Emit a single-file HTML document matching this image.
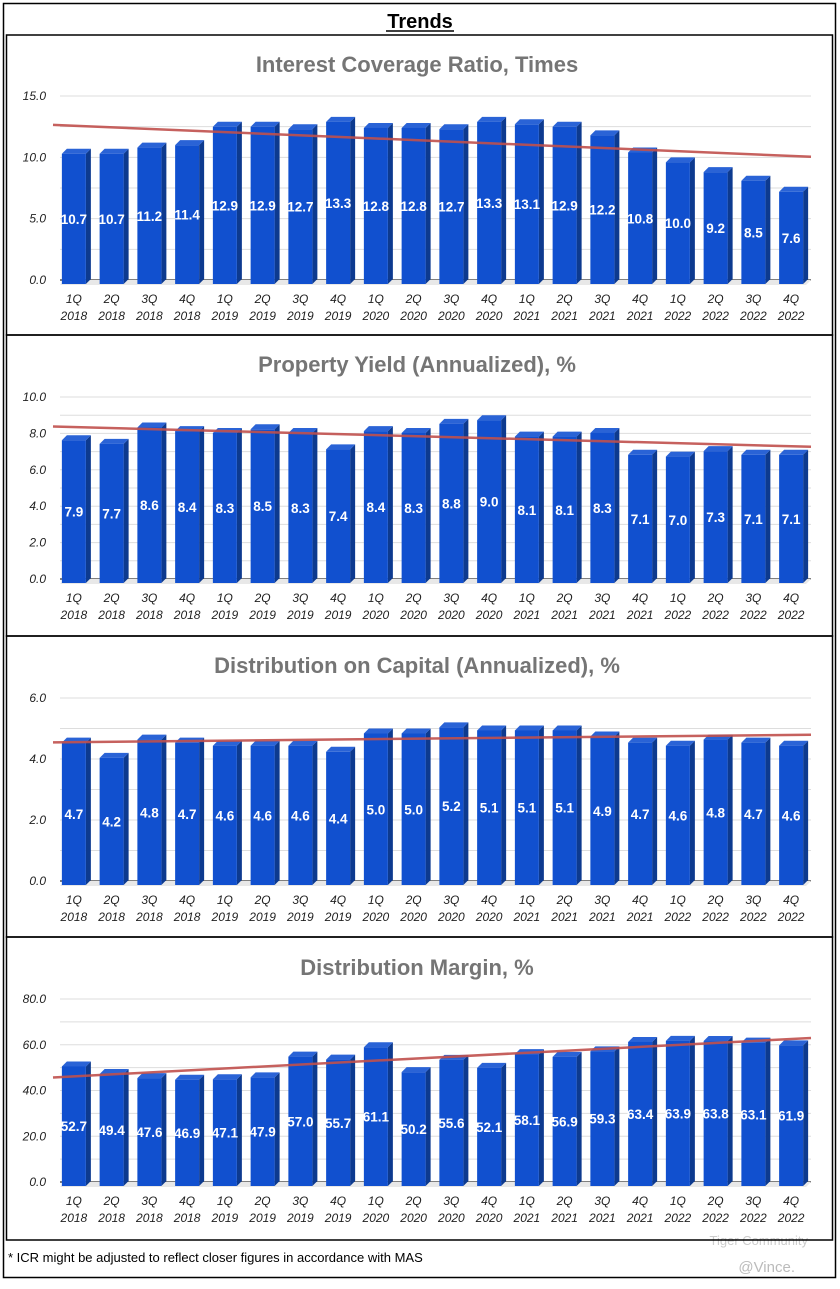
<!DOCTYPE html>
<html><head><meta charset="utf-8"><style>
body{margin:0;background:#fff;width:840px;height:1284px;overflow:hidden;font-family:"Liberation Sans",sans-serif}
</style></head><body>
<svg id="s" width="840" height="1284" xmlns="http://www.w3.org/2000/svg">
<rect x="3.5" y="3.5" width="832" height="1274" fill="none" stroke="#000" stroke-width="1.5"/>
<text x="420" y="28" text-anchor="middle" font-size="20" font-weight="bold">Trends</text>
<line x1="386" y1="31" x2="454" y2="31" stroke="#000" stroke-width="1.5"/>
<text x="8" y="1262" font-size="13">* ICR might be adjusted to reflect closer figures in accordance with MAS</text>
<text x="795" y="1272" text-anchor="end" font-size="15" fill="#bbb">@Vince.</text>
<text x="808" y="1245" text-anchor="end" font-size="13" fill="#ccc">Tiger Community</text>
</svg>
<script>
const quarters=["1Q","2Q","3Q","4Q","1Q","2Q","3Q","4Q","1Q","2Q","3Q","4Q","1Q","2Q","3Q","4Q","1Q","2Q","3Q","4Q"];
const years=["2018","2018","2018","2018","2019","2019","2019","2019","2020","2020","2020","2020","2021","2021","2021","2021","2022","2022","2022","2022"];
const icrValues=[10.7,10.7,11.2,11.4,12.9,12.9,12.7,13.3,12.8,12.8,12.7,13.3,13.1,12.9,12.2,10.8,10.0,9.2,8.5,7.6];
const yieldValues=[7.9,7.7,8.6,8.4,8.3,8.5,8.3,7.4,8.4,8.3,8.8,9.0,8.1,8.1,8.3,7.1,7.0,7.3,7.1,7.1];
const docValues=[4.7,4.2,4.8,4.7,4.6,4.6,4.6,4.4,5.0,5.0,5.2,5.1,5.1,5.1,4.9,4.7,4.6,4.8,4.7,4.6];
const marginValues=[52.7,49.4,47.6,46.9,47.1,47.9,57.0,55.7,61.1,50.2,55.6,52.1,58.1,56.9,59.3,63.4,63.9,63.8,63.1,61.9];
const icrTicks=["0.0","5.0","10.0","15.0"];
const yieldTicks=["0.0","2.0","4.0","6.0","8.0","10.0"];
const docTicks=["0.0","2.0","4.0","6.0"];
const marginTicks=["0.0","20.0","40.0","60.0","80.0"];
const titles=["Interest Coverage Ratio, Times","Property Yield (Annualized), %","Distribution on Capital (Annualized), %","Distribution Margin, %"];

const NS="http://www.w3.org/2000/svg";
const svg=document.getElementById('s');
function mk(tag,attrs,parent){const e=document.createElementNS(NS,tag);for(const k in attrs)e.setAttribute(k,attrs[k]);(parent||svg).appendChild(e);return e;}

function drawChart(idx,top,bottom,titleY,y0,yMaxPix,values,ticks,slug){
  const g=mk('g',{});
  
  
  const box=mk('rect',{x:6.5,y:top,width:826,height:bottom-top,fill:'none',stroke:'#000','stroke-width':1.5},g);
  
  
  const t=mk('text',{x:417,y:titleY,'text-anchor':'middle','font-size':22,'font-weight':'bold',fill:'#757575'},g);
  t.textContent=titles[idx];
  
  
  const tmax=parseFloat(ticks[ticks.length-1]);
  const yScale=v=>y0-(y0-yMaxPix)*v/tmax;
  const left=56,right=811,step=(right-left)/values.length;
  const xC=i=>left+step*(i+0.5)-1;
  const nT=ticks.length-1;
  for(let k=0;k<=nT*2;k++){
    const v=tmax*k/(nT*2);const y=yScale(v);
    const l=mk('line',{x1:60,x2:811,y1:y,y2:y,stroke:k===0?'#333':'#ddd','stroke-width':k===0?1.2:1},g);
    
    
  }
  ticks.forEach(tk=>{
    const tx=mk('text',{x:46,y:yScale(parseFloat(tk))+4,'text-anchor':'end','font-size':12,'font-style':'italic',fill:'#222'},g);
    tx.textContent=tk;
    
    
  });
  const fl=mk('polygon',{points:`${60},${y0+5} ${806},${y0+5} ${811},${y0} ${65},${y0}`,fill:'#e8e8e8'},g);
  
  
  values.forEach((v,i)=>{
    const cx=xC(i),w=24,d=5;
    const x=cx-w/2,yt=yScale(v)+5,yb=y0+4;
    const bg=mk('g',{},g);
    
    
    mk('polygon',{points:`${x+w},${yt} ${x+w+d},${yt-5} ${x+w+d},${yb-5} ${x+w},${yb}`,fill:'#0d3a8f'},bg);
    mk('polygon',{points:`${x},${yt} ${x+d},${yt-5} ${x+w+d},${yt-5} ${x+w},${yt}`,fill:'#2a63d6'},bg);
    mk('rect',{x:x,y:yt,width:w,height:yb-yt,fill:'#1150cf'},bg);
    const lb=mk('text',{x:cx,y:(yt+yb)/2+5,'text-anchor':'middle','font-size':13.5,'font-weight':'bold',fill:'#fff'},g);
    lb.textContent=v.toFixed(1);
    
    
    const q=mk('text',{x:cx,y:y0+23,'text-anchor':'middle','font-size':12,'font-style':'italic',fill:'#222'},g);
    q.textContent=quarters[i];
    
    
    const yr=mk('text',{x:cx,y:y0+40,'text-anchor':'middle','font-size':12,'font-style':'italic',fill:'#222'},g);
    yr.textContent=years[i];
    
    
  });
  const n=values.length;let sx=0,sy=0,sxy=0,sxx=0;
  values.forEach((v,i)=>{sx+=i;sy+=v;sxy+=i*v;sxx+=i*i;});
  const b=(n*sxy-sx*sy)/(n*sxx-sx*sx),a=(sy-b*sx)/n;
  const i0=(53-left)/step-0.5,i1=(811-left)/step-0.5;
  const tl=mk('line',{x1:53,y1:yScale(a+b*i0)+3,x2:811,y2:yScale(a+b*i1)+3,stroke:'#c0504d','stroke-width':2.5,'stroke-opacity':0.9},g);
  
  
}
drawChart(0,35,335,72,280,96,icrValues,icrTicks,'icr');
drawChart(1,335,636,372,579,397,yieldValues,yieldTicks,'property-yield');
drawChart(2,636,937,673,881,698,docValues,docTicks,'distribution-on-capital');
drawChart(3,937,1240,975,1182,999,marginValues,marginTicks,'distribution-margin');
</script>
</body></html>
